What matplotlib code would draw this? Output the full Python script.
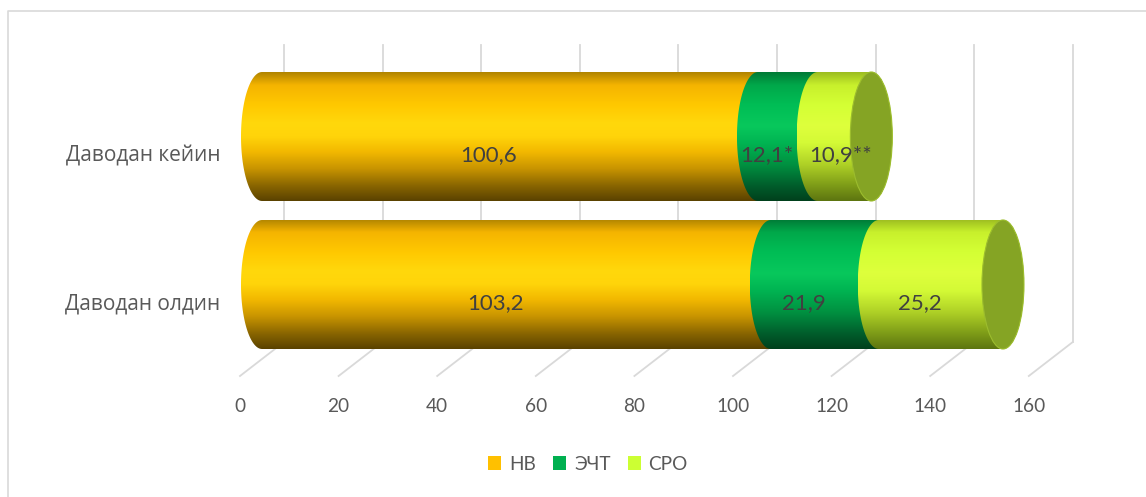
import numpy as np
import matplotlib
matplotlib.use("Agg")
import matplotlib.pyplot as plt
from matplotlib.path import Path
from matplotlib.patches import PathPatch, Ellipse, Patch
from matplotlib.colors import LinearSegmentedColormap

# ---- data ----
categories = ["Даводан олдин", "Даводан кейин"]
series_names = ["НВ", "ЭЧТ", "СРО"]
hb_values = [103.2, 100.6]
echt_values = [21.9, 12.1]
sro_values = [25.2, 10.9]
value_labels = [["103,2", "100,6"], ["21,9", "12,1*"], ["25,2", "10,9**"]]
x_ticks = [0, 20, 40, 60, 80, 100, 120, 140, 160]

# ---- style ----
FONT = ["Lato", "DejaVu Sans"]
CAT_FONT = ["Open Sans", "DejaVu Sans"]
TEXT_GREY = "#595959"
LABEL_DARK = "#404040"
GRID = "#d9d9d9"
legend_colors = ["#FFC000", "#00B050", "#CCFF33"]
cap_color = "#85A424"

gradients = [
    [(0.0, "#5a4200"), (0.12, "#8a6600"), (0.25, "#c89400"), (0.38, "#f2b800"),
     (0.5, "#ffd40a"), (0.6, "#ffd80c"), (0.75, "#ffc800"), (0.9, "#f5b400"),
     (1.0, "#b08400")],
    [(0.0, "#00401c"), (0.12, "#005e2c"), (0.28, "#009040"), (0.45, "#00b452"),
     (0.58, "#08c85c"), (0.75, "#00bd55"), (0.9, "#00a84a"), (1.0, "#007a36")],
    [(0.0, "#5d7510"), (0.12, "#7e9c18"), (0.28, "#aed026"), (0.45, "#d4fa36"),
     (0.58, "#deff3c"), (0.75, "#d4ff34"), (0.9, "#c8f02c"), (1.0, "#9cbc20")],
]

# ---- geometry (pixels) ----
W, H, DPI = 1146, 497, 100
PX_PER_UNIT = 4.93      # horizontal pixels per value unit
X0_PX = 262             # pixel column of value 0 on the cylinder axis
ROW_PX = 148            # pixels between categories
Y0_PX = 212.5           # pixel row (from bottom) of the first category
DEPTH_DX = 22           # half depth of the 3D box, horizontal
BAR_PX = 129            # cylinder diameter
CAP_PX = 21             # half width of cylinder end ellipse


def dxu(px):
    return px / PX_PER_UNIT


def dyu(px):
    return px / ROW_PX


def y_from_top(p):
    return (H - p - Y0_PX) / ROW_PX


def x_from_left(p):
    return (p - X0_PX) / PX_PER_UNIT


fig = plt.figure(figsize=(W / DPI, H / DPI), dpi=DPI)
ax = fig.add_axes([0, 0, 1, 1])
ax.set_xlim(x_from_left(0), x_from_left(W))
ax.set_ylim(y_from_top(H), y_from_top(0))
ax.axis("off")
renderer = fig.canvas.get_renderer()

# outer frame (left and top edges)
ax.plot([x_from_left(7.5), x_from_left(7.5), x_from_left(W)],
        [y_from_top(H), y_from_top(10.5), y_from_top(10.5)],
        color=GRID, lw=1.2, zorder=0, solid_capstyle="butt")

# back wall gridlines and floor lines
wall_top, wall_floor, front_floor = y_from_top(45), y_from_top(342), y_from_top(376)
for v in x_ticks:
    xb = v + dxu(DEPTH_DX)
    xf = v - dxu(DEPTH_DX)
    ax.plot([xb, xb], [wall_floor, wall_top], color=GRID, lw=1.3, zorder=1)
    ax.plot([xb, xf], [wall_floor, front_floor], color=GRID, lw=1.3, zorder=1)
    ax.text(xf, y_from_top(406), f"{v}", ha="center", va="center",
            fontsize=13.7, color=TEXT_GREY, family=FONT)

# category labels
for i, cat in enumerate(categories):
    ax.text(x_from_left(220), i - dyu(20), cat, ha="right", va="center",
            fontsize=15.0, color=TEXT_GREY, family=CAT_FONT)

# cylinders
h = BAR_PX / ROW_PX
ew = dxu(CAP_PX)
series = [hb_values, echt_values, sro_values]
cmaps = [LinearSegmentedColormap.from_list(f"g{k}", g) for k, g in enumerate(gradients)]
grad = np.linspace(0, 1, 256).reshape(-1, 1)

for i in range(len(categories)):
    left = 0.0
    for k, vals in enumerate(series):
        a, b = left, left + vals[i]
        t1 = np.linspace(np.pi / 2, 3 * np.pi / 2, 60)
        t2 = np.linspace(3 * np.pi / 2, 5 * np.pi / 2, 60)
        xs = np.concatenate([a + ew * np.cos(t1), b + ew * np.cos(t2)])
        ys = np.concatenate([i + h / 2 * np.sin(t1), i + h / 2 * np.sin(t2)])
        verts = np.column_stack([xs, ys])
        path = Path(np.vstack([verts, verts[:1]]),
                    [Path.MOVETO] + [Path.LINETO] * (len(verts) - 1) + [Path.CLOSEPOLY])
        patch = PathPatch(path, fc="none", ec="none", transform=ax.transData, zorder=2 + k)
        ax.add_patch(patch)
        im = ax.imshow(grad, extent=[a - ew, b + ew, i - h / 2, i + h / 2],
                       origin="lower", aspect="auto", cmap=cmaps[k],
                       interpolation="bilinear", zorder=2 + k)
        im.set_clip_path(patch)
        # label sits on the front face; a label wider than its segment is centred on the axis
        txt = ax.text((a + b) / 2 - dxu(21), i - dyu(19), value_labels[k][i],
                      ha="center", va="center", fontsize=16, color=LABEL_DARK,
                      family=FONT, zorder=10)
        if txt.get_window_extent(renderer).width > vals[i] * PX_PER_UNIT:
            txt.set_x((a + b) / 2 - dxu(4))
        left = b
    ax.add_patch(Ellipse((left, i), 2 * ew, h, fc=cap_color, ec="#9cbd2e",
                         lw=0.8, zorder=6))

ax.set_xlim(x_from_left(0), x_from_left(W))
ax.set_ylim(y_from_top(H), y_from_top(0))

# legend
handles = [Patch(facecolor=c, edgecolor="none") for c in legend_colors]
fig.legend(handles, series_names, loc="center", ncol=3,
           bbox_to_anchor=(588 / W, (H - 464) / H), frameon=False,
           handlelength=0.7, handleheight=0.7, handletextpad=0.4,
           columnspacing=0.9, prop={"family": FONT, "size": 13.7},
           labelcolor=TEXT_GREY)

fig.savefig("out.png", dpi=DPI, facecolor="white")
